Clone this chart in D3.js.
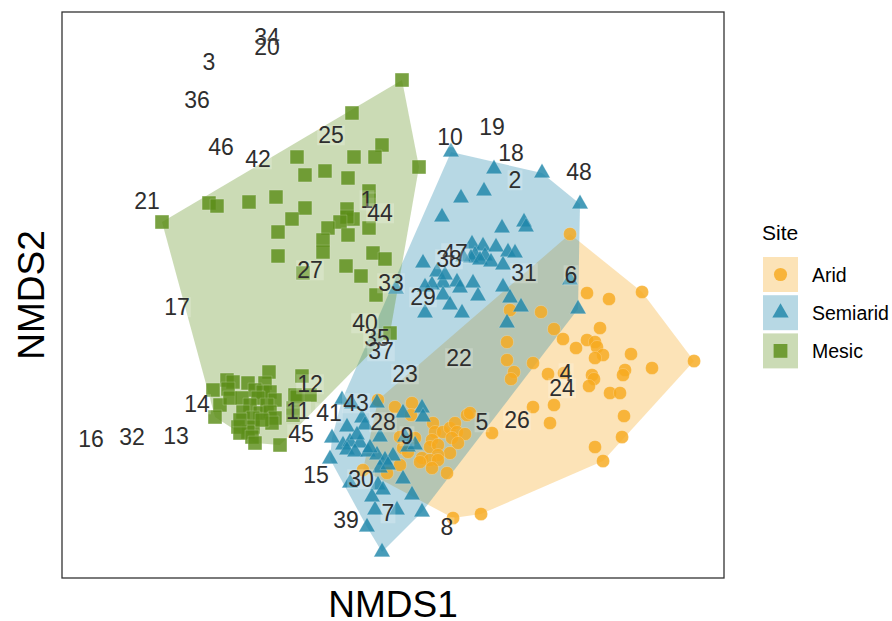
<!DOCTYPE html>
<html>
<head>
<meta charset="utf-8">
<script src="https://cdn.jsdelivr.net/npm/d3@7"></script>
<style>
  html, body { margin: 0; padding: 0; background: #fff; }
  svg { display: block; font-family: "Liberation Sans", Arial, Helvetica, sans-serif; }
</style>
</head>
<body>
<svg id="chart" width="892" height="621"></svg>
<script>
// NMDS site scores by site type
const arid = [
  [-0.015,-0.105],[0.002,-0.112],[0.019,-0.108],[0.040,-0.128],[0.042,-0.137],[0.050,-0.137],
  [0.039,-0.145],[0.037,-0.152],[0.057,-0.133],[0.062,-0.128],[0.064,-0.137],[0.072,-0.139],
  [0.074,-0.120],[0.077,-0.118],[0.059,-0.143],[0.065,-0.148],[0.057,-0.158],[0.045,-0.150],
  [0.045,-0.160],[0.029,-0.163],[0.037,-0.165],[0.027,-0.167],[0.045,-0.165],[0.039,-0.173],
  [0.054,-0.178],[0.010,-0.153],[-0.030,-0.175],[-0.006,-0.178],[0.022,-0.143],[0.099,-0.138],
  [0.007,-0.142],[0.015,-0.157],[0.007,-0.170],[0.060,-0.223],[0.088,-0.219],[0.018,-0.120],
  [0.177,0.061],[0.194,0.002],[0.216,-0.004],[0.249,0.003],[0.148,-0.017],[0.117,-0.015],
  [0.161,-0.034],[0.207,-0.033],[0.170,-0.044],[0.194,-0.045],[0.202,-0.047],[0.204,-0.052],
  [0.183,-0.053],[0.210,-0.060],[0.202,-0.063],[0.238,-0.059],[0.114,-0.047],[0.114,-0.065],
  [0.140,-0.068],[0.121,-0.077],[0.118,-0.084],[0.155,-0.079],[0.171,-0.078],[0.199,-0.080],
  [0.201,-0.084],[0.196,-0.091],[0.232,-0.075],[0.230,-0.080],[0.259,-0.073],[0.301,-0.066],
  [0.217,-0.098],[0.227,-0.098],[0.140,-0.112],[0.161,-0.110],[0.157,-0.128],[0.231,-0.121],
  [0.229,-0.142],[0.202,-0.152],[0.210,-0.166]
];

const semiarid = [
  [0.058,0.143],[0.101,0.126],[0.149,0.122],[0.091,0.104],[0.068,0.097],[0.187,0.091],
  [0.049,0.078],[0.131,0.073],[0.133,0.068],[0.109,0.067],[0.079,0.051],[0.090,0.049],
  [0.103,0.048],[0.115,0.043],[0.122,0.042],[0.082,0.040],[0.092,0.039],[0.078,0.037],
  [0.087,0.035],[0.098,0.033],[0.110,0.030],[0.030,0.032],[0.044,0.023],[0.050,0.012],
  [0.064,0.013],[0.080,0.012],[0.067,0.007],[0.039,0.010],[0.032,0.008],[0.003,0.006],
  [0.110,0.008],[0.050,0.000],[0.085,-0.001],[0.117,-0.003],[0.057,-0.010],[0.032,-0.018],
  [0.069,-0.018],[0.128,-0.012],[0.177,0.015],[0.185,-0.014],[0.114,-0.028],[0.070,0.038],
  [0.052,0.020],
  [-0.051,-0.105],[-0.041,-0.109],[-0.016,-0.108],[0.010,-0.118],[0.029,-0.113],[0.030,-0.122],
  [-0.046,-0.132],[-0.031,-0.123],[-0.028,-0.130],[-0.061,-0.143],[-0.050,-0.150],[-0.043,-0.147],
  [-0.033,-0.148],[-0.046,-0.155],[-0.038,-0.157],[-0.025,-0.157],[-0.016,-0.160],[-0.013,-0.142],
  [0.000,-0.161],[-0.008,-0.165],[0.015,-0.152],[0.022,-0.150],[-0.063,-0.164],[-0.013,-0.173],
  [-0.043,-0.188],[-0.015,-0.190],[-0.010,-0.195],[-0.021,-0.202],[0.010,-0.184],[0.019,-0.200],
  [-0.018,-0.215],[0.004,-0.215],[0.029,-0.217],[-0.026,-0.232],[-0.011,-0.257],[-0.036,-0.140],
  [0.012,-0.142],[-0.023,-0.153],[-0.005,-0.170]
];

const mesic = [
  [0.009,0.215],[-0.041,0.182],[-0.011,0.150],[-0.039,0.138],[-0.018,0.138],[-0.096,0.138],
  [0.026,0.128],[-0.088,0.120],[-0.068,0.124],[-0.045,0.117],[-0.024,0.104],[-0.024,0.095],
  [-0.184,0.092],[-0.176,0.089],[-0.144,0.093],[-0.117,0.098],[-0.088,0.087],[-0.046,0.086],
  [-0.040,0.076],[-0.046,0.078],[-0.053,0.073],[-0.065,0.067],[-0.101,0.076],[-0.024,0.067],
  [-0.045,0.060],[-0.115,0.063],[-0.070,0.055],[-0.070,0.043],[-0.115,0.039],[-0.020,0.042],
  [-0.008,0.036],[-0.047,0.029],[-0.032,0.019],[-0.090,0.022],[-0.231,0.073],[-0.017,0.000],
  [-0.003,-0.038],
  [-0.124,-0.077],[-0.091,-0.081],[-0.166,-0.085],[-0.160,-0.087],[-0.145,-0.088],[-0.128,-0.088],
  [-0.180,-0.095],[-0.165,-0.094],[-0.138,-0.095],[-0.130,-0.097],[-0.123,-0.097],[-0.098,-0.100],
  [-0.083,-0.100],[-0.173,-0.110],[-0.163,-0.103],[-0.151,-0.103],[-0.135,-0.103],[-0.118,-0.105],
  [-0.143,-0.110],[-0.126,-0.110],[-0.150,-0.117],[-0.133,-0.118],[-0.123,-0.117],[-0.100,-0.113],
  [-0.178,-0.122],[-0.140,-0.123],[-0.118,-0.123],[-0.100,-0.120],[-0.121,-0.128],[-0.140,-0.132],
  [-0.155,-0.132],[-0.145,-0.137],[-0.153,-0.138],[-0.141,-0.142],[-0.138,-0.148],[-0.113,-0.150],
  [-0.096,-0.102],[-0.153,-0.125],[-0.131,-0.125]
];

// Site number labels and their positions in ordination space
const siteIds = [34,20,3,36,46,42,25,21,1,44,27,17,10,19,18,2,48,47,38,31,6,33,29,40,35,37,22,23,12,4,24,14,11,41,43,28,9,5,26,45,16,32,13,15,30,39,7,8];
const siteX = [-0.126,-0.126,-0.184,-0.196,-0.172,-0.135,-0.062,-0.246,-0.026,-0.013,-0.083,-0.216,0.057,0.099,0.118,0.122,0.186,0.062,0.056,0.131,0.178,-0.002,0.030,-0.028,-0.016,-0.012,0.066,0.012,-0.083,0.173,0.169,-0.196,-0.095,-0.064,-0.037,-0.010,0.014,0.089,0.124,-0.092,-0.302,-0.261,-0.217,-0.077,-0.032,-0.047,-0.005,0.054];
const siteY = [0.258,0.248,0.233,0.195,0.148,0.136,0.160,0.094,0.095,0.082,0.025,-0.012,0.158,0.168,0.142,0.115,0.123,0.042,0.036,0.022,0.020,0.012,-0.002,-0.028,-0.043,-0.056,-0.063,-0.079,-0.089,-0.078,-0.093,-0.109,-0.116,-0.118,-0.108,-0.127,-0.141,-0.127,-0.125,-0.139,-0.144,-0.142,-0.141,-0.180,-0.184,-0.225,-0.218,-0.232];

const siteNames = ["Arid", "Semiarid", "Mesic"];
const siteColors = ["#F6A91E", "#1F86AA", "#5C8E18"];

const groups = [
  { name: siteNames[0], pts: arid, color: siteColors[0], shape: d3.symbolCircle, size: 135 },
  { name: siteNames[1], pts: semiarid, color: siteColors[1], shape: d3.symbolTriangle, size: 115 },
  { name: siteNames[2], pts: mesic, color: siteColors[2], shape: d3.symbolSquare, size: 190 }
];

const svg = d3.select("#chart");
const panel = { left: 62, top: 12, right: 724, bottom: 578 };

const x = d3.scaleLinear().domain([-0.331, 0.331]).range([panel.left, panel.right]);
const y = d3.scaleLinear().domain([-0.283, 0.283]).range([panel.bottom, panel.top]);

const plot = svg.append("g");

// Convex hulls of each site type
groups.forEach(g => {
  const hull = d3.polygonHull(g.pts.map(p => [x(p[0]), y(p[1])]));
  plot.append("path")
    .attr("d", "M" + hull.join("L") + "Z")
    .attr("fill", g.color)
    .attr("fill-opacity", 0.32);
});

// Points
groups.forEach(g => {
  plot.append("g").selectAll("path")
    .data(g.pts)
    .join("path")
    .attr("transform", d => `translate(${x(d[0])},${y(d[1])})`)
    .attr("d", d3.symbol().type(g.shape).size(g.size))
    .attr("fill", g.color)
    .attr("fill-opacity", 0.82)
    .attr("stroke", "#ffffff")
    .attr("stroke-opacity", 0.25)
    .attr("stroke-width", 0.8);
});

// Site labels
const labels = plot.append("g");
siteIds.forEach((id, i) => {
  const lg = labels.append("g");
  const t = lg.append("text")
    .attr("x", x(siteX[i]))
    .attr("y", y(siteY[i]))
    .attr("dy", "0.36em")
    .attr("text-anchor", "middle")
    .attr("font-size", 23)
    .attr("fill", "#2e2e2e")
    .text(id);
  const b = t.node().getBBox();
  lg.insert("rect", "text")
    .attr("x", b.x - 1).attr("y", b.y + 3)
    .attr("width", b.width + 2).attr("height", b.height - 6)
    .attr("fill", "#ffffff").attr("fill-opacity", 0.22);
});

// Panel border
svg.append("rect")
  .attr("x", panel.left).attr("y", panel.top)
  .attr("width", panel.right - panel.left).attr("height", panel.bottom - panel.top)
  .attr("fill", "none").attr("stroke", "#333").attr("stroke-width", 1.3);

// Axis titles
svg.append("text")
  .attr("x", (panel.left + panel.right) / 2).attr("y", 617)
  .attr("text-anchor", "middle").attr("font-size", 37).attr("fill", "#000")
  .text("NMDS1");
svg.append("text")
  .attr("transform", `translate(44,${(panel.top + panel.bottom) / 2}) rotate(-90)`)
  .attr("text-anchor", "middle").attr("font-size", 37).attr("fill", "#000")
  .text("NMDS2");

// Legend
const legend = svg.append("g").attr("transform", "translate(762,0)");
legend.append("text").attr("x", 0).attr("y", 240)
  .attr("font-size", 21).attr("fill", "#000").text("Site");
groups.forEach((g, i) => {
  const cy = 274.5 + i * 38.2;
  legend.append("rect")
    .attr("x", 1).attr("y", cy - 17.5).attr("width", 35).attr("height", 35)
    .attr("fill", g.color).attr("fill-opacity", 0.32);
  legend.append("path")
    .attr("transform", `translate(18.5,${cy})`)
    .attr("d", d3.symbol().type(g.shape).size(g.size))
    .attr("fill", g.color).attr("fill-opacity", 0.82);
  legend.append("text")
    .attr("x", 50).attr("y", cy).attr("dy", "0.36em")
    .attr("font-size", 19.5).attr("fill", "#000").text(g.name);
});
</script>
</body>
</html>
